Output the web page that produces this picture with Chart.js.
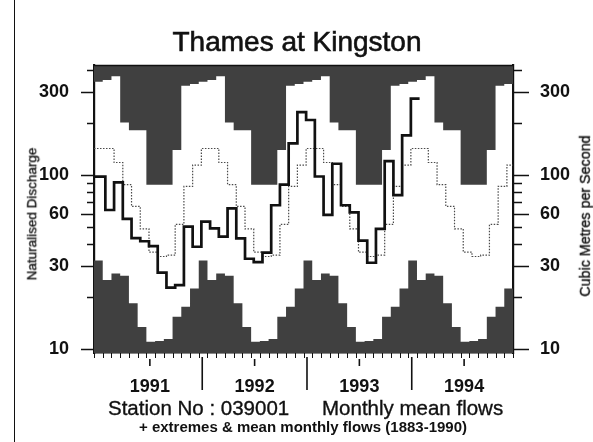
<!DOCTYPE html>
<html>
<head>
<meta charset="utf-8">
<script src="https://cdn.jsdelivr.net/npm/chart.js@4.4.1/dist/chart.umd.min.js"></script>
<style>
  html, body { margin: 0; padding: 0; background: #fff; }
  #wrap { position: relative; width: 593px; height: 442px; overflow: hidden;
          font-family: "Liberation Sans", Arial, sans-serif; color: #111; }
  canvas { position: absolute; left: 0; top: 0; }
  .t { position: absolute; white-space: nowrap; line-height: 1; -webkit-text-stroke: 0.35px #111; }
  #title { left: 297px; top: 42px; font-size: 28px; transform: translate(-50%, -50%); -webkit-text-stroke: 0.6px #111; }
  .side { transform: translate(-50%, -50%) rotate(-90deg); }
  #ylab { left: 32px; top: 214px; font-size: 13.5px; }
  #y2lab { left: 585px; top: 216px; font-size: 14.3px; }
  .stn { top: 408px; font-size: 20.5px; transform: translateY(-50%); }
  #sub { left: 303px; top: 426px; font-size: 15px; font-weight: bold; transform: translate(-50%, -50%); -webkit-text-stroke: 0; }
</style>
</head>
<body>
<div id="wrap">
  <canvas id="chart" width="593" height="442"></canvas>
  <div class="t" id="title">Thames at Kingston</div>
  <div class="t side" id="ylab">Naturalised Discharge</div>
  <div class="t side" id="y2lab">Cubic Metres per Second</div>
  <div class="t stn" style="left:108px">Station No : 039001</div>
  <div class="t stn" style="left:322px">Monthly mean flows</div>
  <div class="t" id="sub">+ extremes &amp; mean monthly flows (1883-1990)</div>
</div>
<script>
// long-term monthly statistics 1883-1990, Jan..Dec (m3/s)
var maxFlow = [343, 352, 369, 200, 181, 181, 88, 88, 88, 139, 326, 333];
var minFlow = [32.2, 24.9, 27.2, 26.4, 18.3, 13.4, 11.0, 11.1, 11.4, 15.3, 17.5, 22.3];
var meanFlow = [142, 142, 118, 88, 66, 49, 36, 34, 34.6, 52, 86, 114];

// monthly mean flows Jan 1991 .. Jan 1994
var flows = [97.8, 62.9, 90.6, 56, 43.4, 41.6, 39, 27.5, 22.5, 23.3, 50.5, 38.7,
             54, 49.4, 44.2, 64.3, 43.2, 33, 31.6, 35.8, 67, 88, 152, 230,
             207, 98, 59, 116, 67, 61, 42, 31.3, 49, 120, 76.6, 169,
             275];

var yearLabels = ["1991", "1992", "1993", "1994"];
var yearMid = [6.4, 18.4, 30.4, 42.4];
var yearEdge = [12.4, 24.4, 36.4];
var tickVals = [10, 20, 30, 40, 50, 60, 70, 80, 90, 100, 200, 300, 400];
var tickLabels = [10, 30, 60, 100, 300];

var Y_MIN = 9.484, Y_MAX = 428.6;
var LINE_SHIFT = 0.3; // flow lines sit a little right of the envelope steps

function fourYears(arr) { return arr.concat(arr, arr, arr); }

// step points: value i holds from its point to the next one
function steps(vals, shift) {
  var pts = vals.map(function (v, i) { return { x: i === 0 ? 0 : i + shift, y: v }; });
  pts.push({ x: vals.length + shift, y: vals[vals.length - 1] });
  return pts;
}

var INK = "#111";
var SHADE = "#404040";

var axisMarks = {
  id: "axisMarks",
  afterDraw: function (chart) {
    var ctx = chart.ctx, a = chart.chartArea, x = chart.scales.x, y = chart.scales.y;
    ctx.save();
    ctx.strokeStyle = INK;
    ctx.lineWidth = 1.6;
    tickVals.forEach(function (v) {
      var py = Math.round(y.getPixelForValue(v)) + 0.5;
      var major = tickLabels.indexOf(v) >= 0;
      ctx.beginPath();
      ctx.moveTo(a.left - (major ? 13 : 7), py); ctx.lineTo(a.left, py);
      ctx.moveTo(a.right, py); ctx.lineTo(a.right + (major ? 16 : 9), py);
      ctx.stroke();
    });
    // month ticks under the plot
    ctx.lineWidth = 1;
    ctx.beginPath();
    for (var k = 0; k <= 48; k++) {
      var px = Math.round(x.getPixelForValue(k)) + 0.5;
      ctx.moveTo(px, a.bottom); ctx.lineTo(px, a.bottom + 5);
    }
    ctx.stroke();
    // year separators and year centre marks
    ctx.lineWidth = 1.6;
    ctx.beginPath();
    yearEdge.forEach(function (v) {
      var px = x.getPixelForValue(v);
      ctx.moveTo(px, a.bottom + 4); ctx.lineTo(px, a.bottom + 37);
    });
    yearMid.forEach(function (v) {
      var px = x.getPixelForValue(v);
      ctx.moveTo(px, a.bottom + 6); ctx.lineTo(px, a.bottom + 13);
    });
    ctx.stroke();
    // frame top line
    ctx.lineWidth = 1.5;
    ctx.beginPath();
    ctx.moveTo(a.left, a.top + 0.5); ctx.lineTo(a.right, a.top + 0.5);
    ctx.stroke();
    // page edge line of the scan
    ctx.lineWidth = 1;
    ctx.beginPath();
    ctx.moveTo(14.5, 0); ctx.lineTo(14.5, 442);
    ctx.stroke();
    ctx.restore();
  }
};

function logAxis(position, pad, width) {
  return {
    type: "logarithmic",
    position: position,
    min: Y_MIN,
    max: Y_MAX,
    grid: { display: false },
    border: { color: INK, width: 2.2 },
    afterBuildTicks: function (s) { s.ticks = tickVals.map(function (v) { return { value: v }; }); },
    afterFit: function (s) { s.width = width; },
    ticks: {
      autoSkip: false,
      padding: pad,
      color: INK,
      font: { size: 18, weight: "bold" },
      callback: function (v) { return tickLabels.indexOf(v) >= 0 ? String(v) : ""; }
    }
  };
}

Chart.defaults.font.family = '"Liberation Sans", Arial, sans-serif';

new Chart(document.getElementById("chart"), {
  type: "line",
  data: {
    datasets: [
      { data: steps(flows, LINE_SHIFT), stepped: true, borderColor: INK, borderWidth: 2.7, fill: false },
      { data: steps(fourYears(meanFlow), LINE_SHIFT), stepped: true, borderColor: "#4a4a4a",
        borderWidth: 1.2, borderDash: [1.5, 1.5], fill: false },
      { data: steps(fourYears(maxFlow), 0), stepped: true, borderWidth: 0,
        borderColor: SHADE, backgroundColor: SHADE, fill: "end" },
      { data: steps(fourYears(minFlow), 0), stepped: true, borderWidth: 0,
        borderColor: SHADE, backgroundColor: SHADE, fill: "start" }
    ]
  },
  options: {
    responsive: false,
    animation: false,
    devicePixelRatio: 1,
    layout: { padding: { left: 0, right: 0, top: 65, bottom: 0 } },
    elements: { point: { radius: 0 } },
    plugins: { legend: { display: false }, tooltip: { enabled: false } },
    scales: {
      x: {
        type: "linear",
        min: 0,
        max: 48,
        grid: { display: false },
        border: { color: INK, width: 1.5 },
        afterBuildTicks: function (s) { s.ticks = yearMid.map(function (v) { return { value: v }; }); },
        afterFit: function (s) { s.height = 442 - 353; },
        ticks: {
          autoSkip: false,
          maxRotation: 0,
          padding: 15,
          color: INK,
          font: { size: 18, weight: "bold" },
          callback: function (v, i) { return yearLabels[i]; }
        }
      },
      y: logAxis("left", 17, 94),
      y2: logAxis("right", 19, 593 - 513)
    }
  },
  plugins: [axisMarks]
});
</script>
</body>
</html>
